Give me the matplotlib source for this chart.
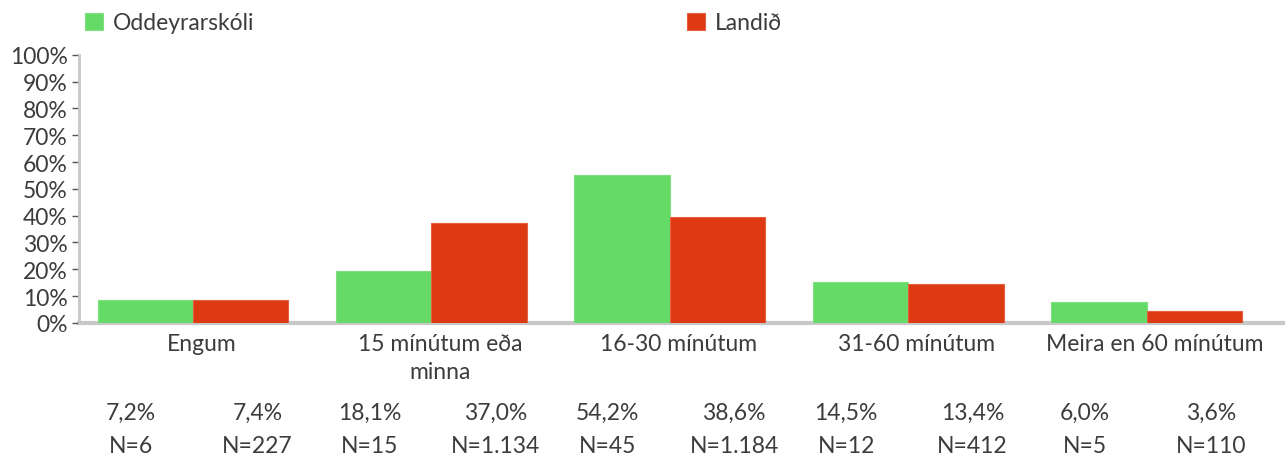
import numpy as np
import matplotlib.pyplot as plt
from matplotlib.transforms import blended_transform_factory

plt.rcParams['font.family'] = ['Lato', 'DejaVu Sans']

flokkar = ['Engum', '15 mínútum eða\nminna', '16-30 mínútum', '31-60 mínútum', 'Meira en 60 mínútum']
# bar heights as drawn in the picture
skoli_h = [8.7, 19.5, 55.3, 15.4, 7.7]
land_h = [8.7, 37.4, 39.4, 14.5, 4.6]
# labels printed under the chart
skoli_pct = ['7,2%', '18,1%', '54,2%', '14,5%', '6,0%']
land_pct = ['7,4%', '37,0%', '38,6%', '13,4%', '3,6%']
skoli_n = ['N=6', 'N=15', 'N=45', 'N=12', 'N=5']
land_n = ['N=227', 'N=1.134', 'N=1.184', 'N=412', 'N=110']

graenn = '#66da66'
raudur = '#dd3913'
textalitur = '#3c3c3c'
grar = '#c8c8c8'
fs = 16.5

fig = plt.figure(figsize=(12.85, 4.6), dpi=100)
ax = fig.add_axes([0.0615, 0.2957, 0.9385, 0.8789 - 0.2957])

x = np.arange(len(flokkar))
w = 0.40
ax.bar(x - w / 2, skoli_h, w, color=graenn, edgecolor='#7fe07f', linewidth=0.8, label='Oddeyrarskóli')
ax.bar(x + w / 2, land_h, w, color=raudur, edgecolor='#e5603f', linewidth=0.8, label='Landið')

ax.set_ylim(0, 100)
ax.set_xlim(-0.478, 4.58)
ax.set_yticks(np.arange(0, 101, 10))
ax.set_yticklabels([f'{v}%' for v in range(0, 101, 10)])
# labels sit a little right of the group centre in the original
ax.set_xticks(x + 0.035)
ax.set_xticklabels(flokkar, linespacing=1.45)

for s in ['top', 'right']:
    ax.spines[s].set_visible(False)
ax.spines['left'].set_color(grar)
ax.spines['left'].set_linewidth(2)
ax.spines['bottom'].set_color(grar)
ax.spines['bottom'].set_linewidth(3)
ax.spines['bottom'].set_zorder(0)

ax.tick_params(axis='y', length=5, width=1, color='#555555', labelsize=fs, labelcolor=textalitur, pad=3)
ax.tick_params(axis='x', length=0, labelsize=fs, labelcolor=textalitur, pad=7)

tr = blended_transform_factory(ax.transData, fig.transFigure)
for i in range(len(flokkar)):
    ax.text(i - 0.26, 0.102, skoli_pct[i], transform=tr, ha='center', va='center', fontsize=fs, color=textalitur)
    ax.text(i + 0.27, 0.102, land_pct[i], transform=tr, ha='center', va='center', fontsize=fs, color=textalitur)
    ax.text(i - 0.26, 0.030, skoli_n[i], transform=tr, ha='center', va='center', fontsize=fs, color=textalitur)
    ax.text(i + 0.27, 0.030, land_n[i], transform=tr, ha='center', va='center', fontsize=fs, color=textalitur)

leg = ax.legend(ncol=2, loc='center left', bbox_to_anchor=(0.059, 0.948), bbox_transform=fig.transFigure,
                frameon=False, fontsize=fs, handlelength=0.8, handleheight=0.8, handletextpad=0.4,
                columnspacing=18.9, borderaxespad=0)
for t in leg.get_texts():
    t.set_color(textalitur)

fig.savefig('out.png', dpi=100)
